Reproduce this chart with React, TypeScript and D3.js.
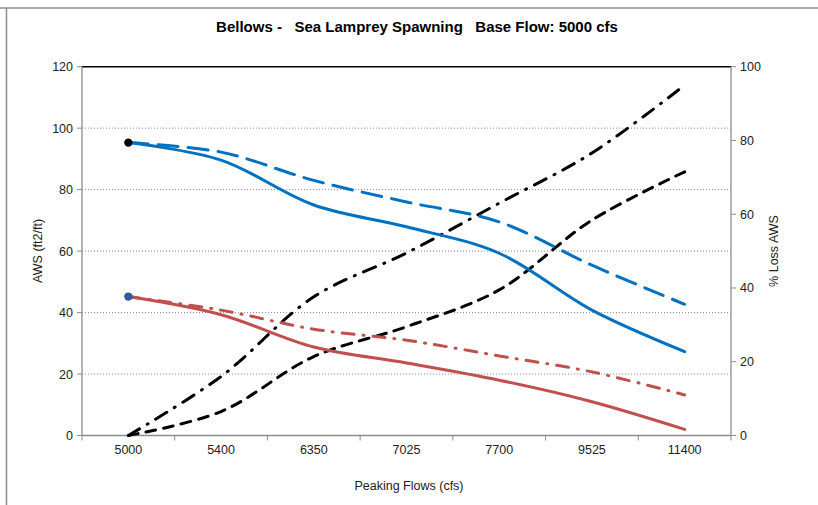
import React from "react";
import * as d3 from "d3";

const categories = ["5000", "5400", "6350", "7025", "7700", "9525", "11400"];
const awsBlueSolid = [95.3, 89.6, 75.0, 67.9, 59.3, 40.8, 27.3];
const awsBlueDashed = [95.3, 92.2, 83.0, 76.0, 69.5, 55.4, 42.7];
const awsRedSolid = [45.2, 39.3, 28.8, 23.6, 18.0, 11.0, 2.0];
const awsRedDashDot = [45.2, 40.8, 34.6, 31.0, 25.9, 20.7, 13.2];
const lossDashDot = [0, 16, 37.6, 49.5, 63, 76.6, 95];
const lossDashed = [0, 6.5, 21.4, 29.5, 39.5, 58.4, 71.5];
const baseMarkers = [
  { value: 95.3, color: "#000000" },
  { value: 45.2, color: "#2E5C9A" },
];
const leftTicks = [0, 20, 40, 60, 80, 100, 120];
const rightTicks = [0, 20, 40, 60, 80, 100];

const W = 818;
const H = 505;
const M = { left: 82, right: 731, top: 66.7, bottom: 435.5 };
const FONT = "'Liberation Sans', Arial, sans-serif";

export default function App() {
  const x = d3
    .scaleBand<string>()
    .domain(categories)
    .range([M.left, M.right])
    .paddingInner(0)
    .paddingOuter(0);
  const xc = (i: number) => (x(categories[i]) as number) + x.bandwidth() / 2;
  const yL = d3.scaleLinear().domain([0, 120]).range([M.bottom, M.top]);
  const yR = d3.scaleLinear().domain([0, 100]).range([M.bottom, M.top]);

  const lineL = d3
    .line<number>()
    .x((_, i) => xc(i))
    .y((d) => yL(d))
    .curve(d3.curveCatmullRom.alpha(0.5));
  const lineR = d3
    .line<number>()
    .x((_, i) => xc(i))
    .y((d) => yR(d))
    .curve(d3.curveCatmullRom.alpha(0.5));

  const boundaries = categories.map((c) => x(c) as number).concat([M.right]);

  const series = [
    { d: lineR(lossDashed), color: "#000", dash: "10,8" },
    { d: lineR(lossDashDot), color: "#000", dash: "13,9,1,9" },
    { d: lineL(awsBlueDashed), color: "#0070C0", dash: "20,10" },
    { d: lineL(awsBlueSolid), color: "#0070C0", dash: "none" },
    { d: lineL(awsRedDashDot), color: "#C0504D", dash: "12,9,1,9" },
    { d: lineL(awsRedSolid), color: "#C0504D", dash: "none" },
  ];

  return (
    <svg width={W} height={H} style={{ display: "block", position: "absolute", left: 0, top: 0 }} fontFamily={FONT}>
      <rect x={0} y={0} width={W} height={H} fill="#fff" />
      {/* outer frame */}
      <line x1={6.5} y1={8} x2={6.5} y2={H} stroke="#8c8c8c" strokeWidth={1.5} />
      <line x1={0} y1={8} x2={W} y2={8} stroke="#8c8c8c" strokeWidth={1.5} />

      <text x={417} y={32} textAnchor="middle" fontSize={15} fontWeight="bold" fill="#000" style={{ whiteSpace: "pre" }}>
        {"Bellows -   Sea Lamprey Spawning   Base Flow: 5000 cfs"}
      </text>

      {/* gridlines */}
      {leftTicks
        .filter((t) => t > 0 && t < 120)
        .map((t) => (
          <line key={"g" + t} x1={M.left} x2={M.right} y1={yL(t)} y2={yL(t)} stroke="#8a8a8a" strokeWidth={1} strokeDasharray="1,2" />
        ))}
      <line x1={M.left} x2={M.right} y1={yL(120)} y2={yL(120)} stroke="#000" strokeWidth={1.5} />

      {/* axes */}
      <line x1={M.left} x2={M.left} y1={M.top} y2={M.bottom} stroke="#8c8c8c" strokeWidth={1.3} />
      <line x1={M.right} x2={M.right} y1={M.top} y2={M.bottom} stroke="#8c8c8c" strokeWidth={1.3} />
      <line x1={M.left} x2={M.right} y1={M.bottom} y2={M.bottom} stroke="#8c8c8c" strokeWidth={1.3} />
      {leftTicks.map((t) => (
        <g key={"l" + t}>
          <line x1={M.left - 5} x2={M.left} y1={yL(t)} y2={yL(t)} stroke="#8c8c8c" />
          <text x={M.left - 9} y={yL(t) + 4.5} textAnchor="end" fontSize={12.5} fill="#222">
            {t}
          </text>
        </g>
      ))}
      {rightTicks.map((t) => (
        <g key={"r" + t}>
          <line x1={M.right} x2={M.right + 5} y1={yR(t)} y2={yR(t)} stroke="#8c8c8c" />
          <text x={M.right + 9} y={yR(t) + 4.5} textAnchor="start" fontSize={12.5} fill="#222">
            {t}
          </text>
        </g>
      ))}
      {boundaries.map((b, i) => (
        <line key={"b" + i} x1={b} x2={b} y1={M.bottom} y2={M.bottom + 5} stroke="#8c8c8c" />
      ))}
      {categories.map((c, i) => (
        <text key={c} x={xc(i)} y={454} textAnchor="middle" fontSize={12.5} fill="#222">
          {c}
        </text>
      ))}

      <text x={409} y={490} textAnchor="middle" fontSize={12.5} fill="#222">
        Peaking Flows (cfs)
      </text>
      <text transform={`translate(42,251) rotate(-90)`} textAnchor="middle" fontSize={12.5} fill="#222">
        AWS (ft2/ft)
      </text>
      <text transform={`translate(778,251) rotate(-90)`} textAnchor="middle" fontSize={12.5} fill="#222">
        % Loss AWS
      </text>

      {series.map((s, i) => (
        <path
          key={"s" + i}
          d={s.d || ""}
          fill="none"
          stroke={s.color}
          strokeWidth={3}
          strokeDasharray={s.dash}
          strokeLinecap="round"
        />
      ))}
      {baseMarkers.map((m, i) => (
        <circle key={"m" + i} cx={xc(0)} cy={yL(m.value)} r={4.2} fill={m.color} />
      ))}
    </svg>
  );
}
